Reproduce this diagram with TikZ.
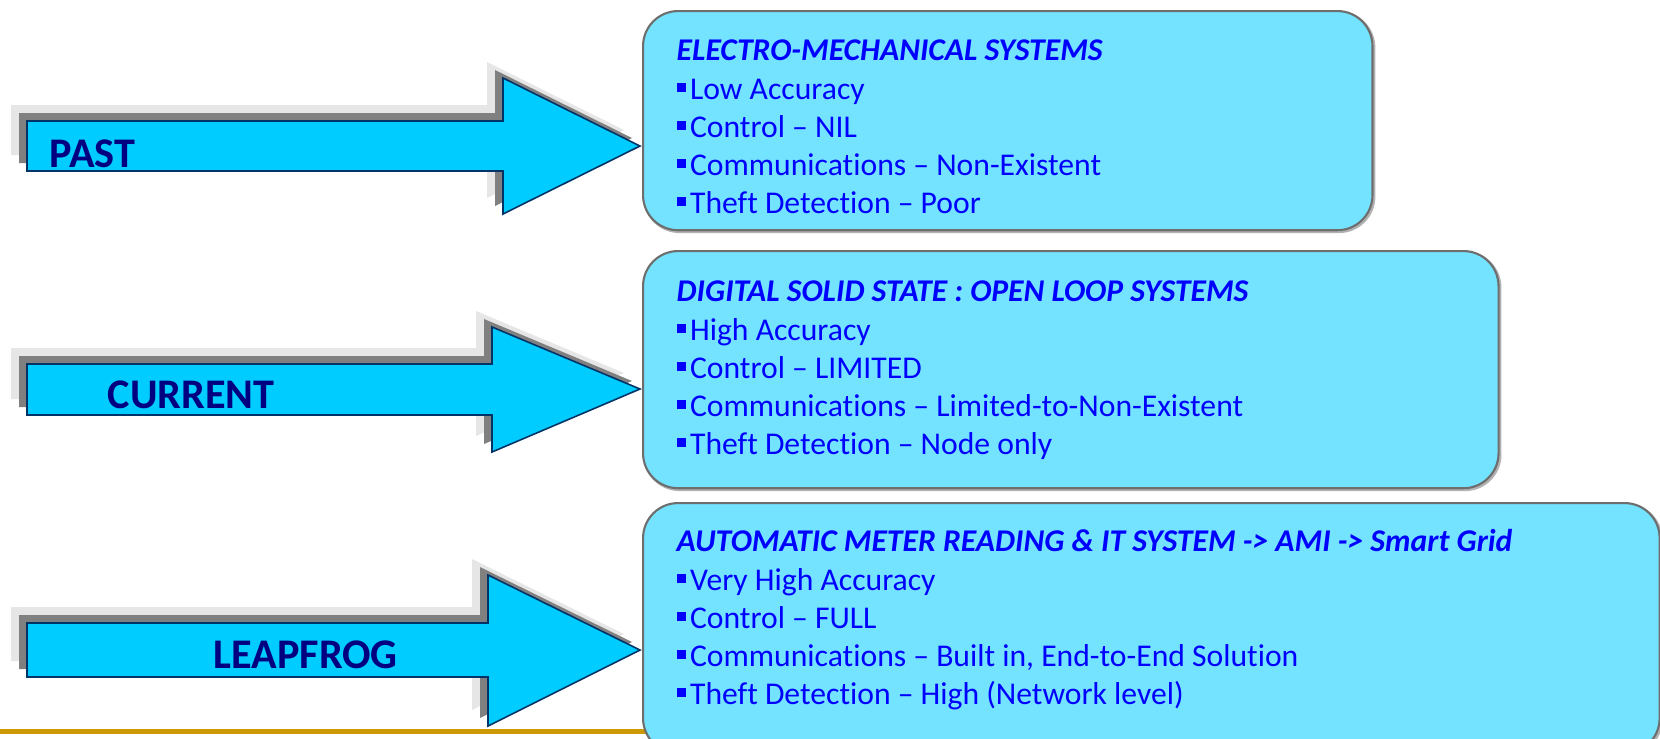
\documentclass[tikz,border=0pt]{standalone}
\usepackage{fontspec}
\setmainfont{Carlito}[Ligatures={TeX,NoCommon}]
\usepackage{tikz}
\usepackage{xcolor}
\definecolor{arrowfill}{RGB}{0,204,255}
\definecolor{arrowline}{RGB}{0,51,102}
\definecolor{arrowtext}{RGB}{0,0,128}
\definecolor{boxfill}{RGB}{115,227,255}
\definecolor{boxline}{RGB}{110,110,110}
\definecolor{boxtext}{RGB}{0,0,255}
\definecolor{shadowdark}{RGB}{128,128,128}
\definecolor{shadowlight}{RGB}{230,230,230}
\definecolor{rulegold}{RGB}{204,153,0}
\newcommand{\sqbullet}{\rule[0.23em]{0.29em}{0.29em}\hspace{1.2pt}}
\tikzset{
    era-arrow/.style = {fill=arrowfill, draw=arrowline, line width=0.45pt, line join=miter,
        preaction={fill=shadowlight, transform canvas={shift={(-16,-16)}}},
        preaction={fill=shadowdark, transform canvas={shift={(-8,-8)}}}},
    era-label/.style = {anchor=base west, inner sep=0pt, text=arrowtext, font=\fontsize{12pt}{14pt}\selectfont\bfseries},
    info-box/.style = {draw=boxline, fill=boxfill, line width=0.6pt, rectangle, rounded corners=0.35cm, anchor=north west, inner sep=0pt,
        preaction={draw=black!30, line width=0.8pt, transform canvas={shift={(1.5,1.5)}}}},
    info-box-text/.style = {anchor=base west, inner sep=0pt, text=boxtext, font=\fontsize{9pt}{10.8pt}\selectfont},
}

\begin{document}
\begin{tikzpicture}[x=0.01cm, y=-0.01cm]
\useasboundingbox (0,0) rectangle (1660,738);

% the three arrows
\path[era-arrow] (27,121) -- (503,121) -- (503,78) -- (640,146) -- (503,214) -- (503,171) -- (27,171) -- cycle;
\path[era-arrow] (27,364) -- (492,364) -- (492,327) -- (640,389) -- (492,452) -- (492,415) -- (27,415) -- cycle;
\path[era-arrow] (27,623) -- (488,623) -- (488,575) -- (640,650) -- (488,726) -- (488,677) -- (27,677) -- cycle;
\node[era-label] (past) at (49,167) {PAST};
\node[era-label] (current) at (107,408) {CURRENT};
\node[era-label] (leapfrog) at (213,668) {LEAPFROG};

\draw[rulegold, line width=1.42pt] (0,731) -- (700,731);

% the boxes
\node[info-box, minimum width=7.29cm, minimum height=2.19cm] (past-box) at (642,10) {};
\node[info-box-text] (past-text) at ([shift={(34,50)}]past-box.north west) {\begin{minipage}[t]{11cm}
    {\bfseries\itshape ELECTRO-MECHANICAL SYSTEMS}\\[0.5pt]
    \sqbullet Low Accuracy\\
    \sqbullet Control -- NIL\\
    \sqbullet Communications -- Non-Existent\\
    \sqbullet Theft Detection -- Poor
\end{minipage}};

\node[info-box, minimum width=8.55cm, minimum height=2.37cm] (current-box) at (642,250) {};
\node[info-box-text] (current-text) at ([shift={(34,51)}]current-box.north west) {\begin{minipage}[t]{11cm}
    {\bfseries\itshape DIGITAL SOLID STATE : OPEN LOOP SYSTEMS}\\[0.5pt]
    \sqbullet High Accuracy\\
    \sqbullet Control -- LIMITED\\
    \sqbullet Communications -- Limited-to-Non-Existent\\
    \sqbullet Theft Detection -- Node only
\end{minipage}};

\node[info-box, minimum width=10.16cm, minimum height=2.5cm] (leapfrog-box) at (642,502) {};
\node[info-box-text] (leapfrog-text) at ([shift={(34,49)}]leapfrog-box.north west) {\begin{minipage}[t]{11cm}
    {\bfseries\itshape AUTOMATIC METER READING \& IT SYSTEM -> AMI -> Smart Grid}\\[0.5pt]
    \sqbullet Very High Accuracy\\
    \sqbullet Control -- FULL\\
    \sqbullet Communications -- Built in, End-to-End Solution\\
    \sqbullet Theft Detection -- High (Network level)
\end{minipage}};
\end{tikzpicture}
\end{document}
